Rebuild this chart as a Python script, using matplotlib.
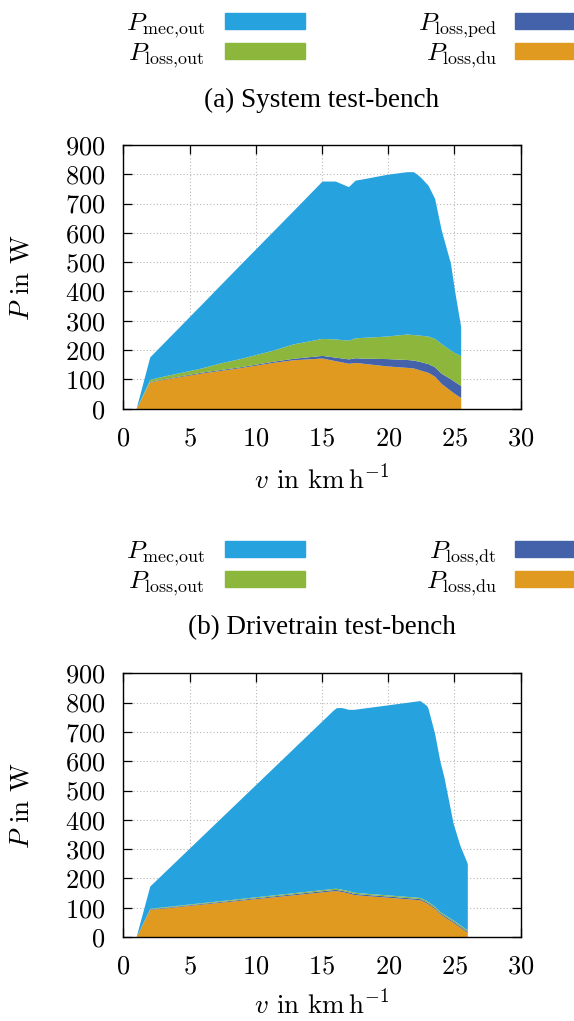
import numpy as np
import matplotlib
matplotlib.use("Agg")
import matplotlib.pyplot as plt
from matplotlib.patches import Rectangle

plt.rcParams['font.family'] = 'cmr10'
plt.rcParams['mathtext.fontset'] = 'cm'
plt.rcParams['axes.formatter.use_mathtext'] = True

# (a) System test-bench, v in km/h, P in W
v_a = [0.96, 2.0, 3.0, 5.8, 7.2, 8.8, 11.3, 12.8, 15.0, 16.0, 17.0, 17.5,
       17.9, 19.9, 21.4, 21.9, 22.4, 23.0, 23.5, 24.0, 24.7, 25.0, 25.47]
du_a = [0, 91, 100, 121, 130, 140, 158, 167, 173, 164, 155, 158,
        156, 146, 141, 139, 132, 124, 111, 86, 62, 52, 38]
ped_a = [0, 2, 2, 3, 3, 3, 4, 5, 9, 12, 15, 16,
         17, 25, 27, 27, 29, 30, 32, 35, 40, 41, 41]
out_a = [0, 7, 9, 14, 22, 28, 38, 49, 58, 62, 64, 68,
         70, 77, 87, 87, 90, 94, 97, 101, 98, 99, 102]
mec_a = [0, 77, 112, 214, 262, 320, 406, 454, 537, 539, 524, 538,
         540, 552, 554, 556, 541, 515, 478, 388, 296, 213, 99]

# (b) Drivetrain test-bench
v_b = [0.96, 2.0, 15.86, 16.1, 16.5, 17.0, 17.4, 18.4, 19.9, 22.4, 22.9,
       23.0, 23.5, 23.9, 24.2, 24.9, 25.4, 25.97]
du_b = [0, 94, 158, 158, 155, 150, 145, 141, 136, 127, 116,
        113, 97, 79, 70, 50, 34, 16]
dt_b = [0, 2, 4, 4, 4, 4, 4, 4, 4, 4, 4, 4, 4, 4, 4, 4, 4, 4]
out_b = [0, 2, 4, 4, 4, 4, 4, 4, 4, 4, 4, 4, 4, 4, 4, 4, 4, 4]
mec_b = [0, 76, 609, 617, 620, 619, 624, 634, 648, 672, 666,
         660, 590, 513, 469, 330, 272, 227]

c_mec = '#26a2df'
c_out = '#8db63d'
c_mid = '#4462aa'
c_du = '#e09a1f'

labels_a = [r'$P_{\mathrm{mec{,}out}}$', r'$P_{\mathrm{loss{,}out}}$',
            r'$P_{\mathrm{loss{,}ped}}$', r'$P_{\mathrm{loss{,}du}}$']
labels_b = [r'$P_{\mathrm{mec{,}out}}$', r'$P_{\mathrm{loss{,}out}}$',
            r'$P_{\mathrm{loss{,}dt}}$', r'$P_{\mathrm{loss{,}du}}$']
colors = [c_mec, c_out, c_mid, c_du]

W, H = 574, 1021
fig = plt.figure(figsize=(W / 100, H / 100), dpi=100)


def px(x, y):
    return x / W, 1 - y / H


def stack_plot(ax, v, layers, xlab_y):
    base = np.zeros(len(v))
    for vals, col in layers:
        top = base + np.array(vals)
        ax.fill_between(v, base, top, color=col, linewidth=0)
        base = top
    ax.set_xlim(0, 30)
    ax.set_ylim(0, 900)
    ax.set_xticks(range(0, 31, 5))
    ax.set_yticks(range(0, 901, 100))
    ax.set_axisbelow(True)
    ax.grid(True, color='#b8b8b8', linestyle=(0, (1, 2)), linewidth=0.8)
    ax.tick_params(direction='in', length=6.5, width=0.9, top=True, right=True,
                   labelsize=19, pad=13)
    for s in ax.spines.values():
        s.set_linewidth(1.0)
    ax.set_xlabel(r'$v$ in $\mathrm{km\,h^{-1}}$', fontsize=19.5)
    ax.set_ylabel(r'$P$ in W', fontsize=19.5)
    ax.xaxis.set_label_coords(0.5, xlab_y)
    ax.xaxis.label.set_va('center')
    ax.yaxis.set_label_coords(-0.255, 0.5)
    ax.yaxis.label.set_va('center')


def legend_block(labels, y_rows, y_title, title):
    label_x = [205, 205, 497, 497]
    patch_x = [225, 225, 515, 515]
    rows = [0, 1, 0, 1]
    for lab, col, lx, pxx, r in zip(labels, colors, label_x, patch_x, rows):
        yc = y_rows[r]
        fig.text(*px(lx, yc + 9), lab, ha='right', va='baseline', fontsize=18.5)
        fig.patches.append(Rectangle(px(pxx, yc + 8), 80 / W, 16 / H,
                                     transform=fig.transFigure, color=col))
    fig.text(*px(322, y_title), title, ha='center', va='center',
             fontsize=19.5, family='Liberation Serif')


ax1 = fig.add_axes([123.3 / W, 1 - 408.7 / H, 397.4 / W, 263.7 / H])
stack_plot(ax1, v_a, [(du_a, c_du), (ped_a, c_mid), (out_a, c_out), (mec_a, c_mec)], -0.27)
legend_block(labels_a, [21, 51], 100, '(a) System test-bench')

ax2 = fig.add_axes([123.3 / W, 1 - 937 / H, 397.4 / W, 263.7 / H])
stack_plot(ax2, v_b, [(du_b, c_du), (dt_b, c_mid), (out_b, c_out), (mec_b, c_mec)], -0.258)
legend_block(labels_b, [549.5, 579], 628, '(b) Drivetrain test-bench')

fig.savefig('out.png', dpi=100)
